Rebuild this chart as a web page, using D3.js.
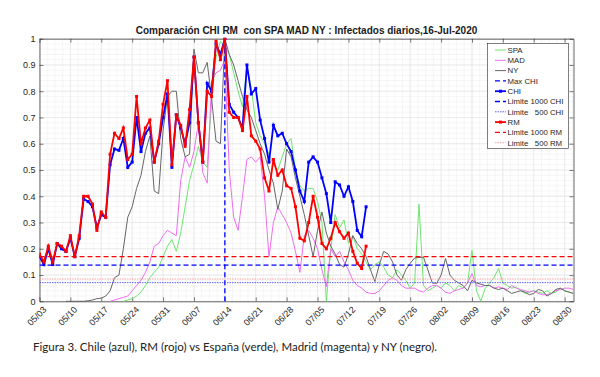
<!DOCTYPE html>
<html><head><meta charset="utf-8">
<script src="https://cdn.jsdelivr.net/npm/d3@7/dist/d3.min.js"></script>
<style>
body{margin:0;background:#fff;}
svg{display:block;font-family:"Liberation Sans",Arial,Helvetica,sans-serif;}
</style>
</head><body>
<svg id="chart" width="600" height="377"></svg>
<script>
// ---------------- data ----------------
const titleText = "Comparación CHI RM  con SPA MAD NY : Infectados diarios,16-Jul-2020";
const captionText = "Figura 3. Chile (azul), RM (rojo) vs España (verde), Madrid (magenta) y NY (negro).";
const domainStart = "2020-05-03";
const domainEnd = "2020-09-01";
const xTickLabels = ["05/03","05/10","05/17","05/24","05/31","06/07","06/14","06/21","06/28","07/05","07/12","07/19","07/26","08/02","08/09","08/16","08/23","08/30"];
const yTickValues = [0,0.1,0.2,0.3,0.4,0.5,0.6,0.7,0.8,0.9,1];

const chiStart = "2020-05-03";
const chiValues = [0.17,0.14,0.20,0.14,0.22,0.20,0.19,0.24,0.17,0.24,
  0.39,0.38,0.36,0.28,0.33,0.32,0.52,0.58,0.575,0.62,
  0.51,0.53,0.70,0.57,0.64,0.66,0.53,0.60,0.70,0.79,
  0.51,0.71,0.66,0.60,0.68,0.93,0.68,0.53,0.83,0.80,
  0.98,0.94,1.00,0.75,0.72,0.70,0.66,0.90,0.79,0.81,
  0.69,0.62,0.53,0.67,0.63,0.64,0.60,0.57,0.50,0.42,
  0.38,0.53,0.55,0.53,0.47,0.41,0.30,0.455,0.443,0.40,
  0.436,0.38,0.27,0.246,0.36];

const rmStart = "2020-05-03";
const rmValues = [0.18,0.15,0.21,0.15,0.22,0.21,0.19,0.25,0.17,0.25,
  0.40,0.40,0.37,0.27,0.34,0.32,0.56,0.64,0.62,0.66,
  0.54,0.56,0.78,0.60,0.66,0.69,0.53,0.61,0.75,0.84,
  0.52,0.71,0.67,0.59,0.73,0.93,0.68,0.53,0.80,0.78,
  0.99,0.92,1.00,0.72,0.70,0.70,0.65,0.78,0.63,0.61,
  0.58,0.47,0.42,0.54,0.48,0.50,0.44,0.43,0.36,0.24,
  0.23,0.30,0.40,0.32,0.22,0.20,0.24,0.30,0.265,0.24,
  0.26,0.19,0.145,0.125,0.21];

const spaStart = "2020-05-22";
const spaValues = [0.0,0.005,0.01,0.02,0.035,0.06,0.09,0.11,0.13,0.17,
  0.21,0.235,0.19,0.26,0.36,0.46,0.52,0.59,0.53,0.51,
  0.76,0.93,0.99,0.97,0.94,0.87,0.80,0.74,0.89,0.81,
  0.68,0.63,0.60,0.56,0.52,0.50,0.55,0.60,0.62,0.50,
  0.44,0.42,0.43,0.43,0.38,0.30,0.0,0.20,0.33,0.28,
  0.31,0.22,0.25,0.20,0.18,0.15,0.12,0.14,0.15,0.13,
  0.10,0.09,0.12,0.10,0.08,0.05,0.07,0.37,0.06,0.04,
  0.05,0.06,0.05,0.07,0.06,0.04,0.06,0.05,0.07,0.195,
  0.04,0.0,0.05,0.07,0.09,0.126,0.07,0.06,0.05,0.055,
  0.04,0.03,0.035,0.04,0.035,0.03,0.04,0.03,0.035,0.05,
  0.04,0.035,0.03];

const madStart = "2020-05-19";
const madValues = [0.0,0.005,0.01,0.015,0.02,0.04,0.06,0.08,0.11,0.15,
  0.21,0.22,0.25,0.27,0.26,0.25,0.46,0.55,0.51,0.57,
  0.68,0.49,0.45,0.84,0.87,0.88,0.92,0.50,0.32,0.27,
  0.40,0.54,0.55,0.53,0.55,0.40,0.17,0.30,0.36,0.33,
  0.30,0.26,0.19,0.11,0.25,0.27,0.24,0.20,0.12,0.056,
  0.20,0.17,0.19,0.15,0.12,0.08,0.06,0.05,0.035,0.03,
  0.03,0.04,0.06,0.08,0.09,0.08,0.06,0.05,0.05,0.05,
  0.04,0.035,0.05,0.06,0.06,0.05,0.035,0.03,0.04,0.045,
  0.05,0.07,0.106,0.06,0.055,0.06,0.06,0.05,0.055,0.05,
  0.045,0.06,0.05,0.045,0.04,0.035,0.04,0.03,0.025,0.025,
  0.03,0.04,0.045,0.05,0.05,0.045];

const nyStart = "2020-05-09";
const nyValues = [0.0,0.0,0.0,0.0,0.0,0.002,0.005,0.01,0.012,0.02,
  0.04,0.09,0.10,0.20,0.32,0.36,0.43,0.48,0.57,0.63,
  0.42,0.41,0.65,0.78,0.80,0.80,0.62,0.55,0.56,0.96,
  0.87,0.87,0.91,0.77,0.61,0.60,1.00,0.94,0.90,0.84,
  0.78,0.73,0.70,0.65,0.60,0.56,0.50,0.45,0.35,0.42,
  0.58,0.55,0.47,0.40,0.33,0.25,0.17,0.27,0.34,0.26,
  0.21,0.18,0.14,0.13,0.18,0.25,0.22,0.20,0.17,0.12,
  0.075,0.14,0.19,0.18,0.15,0.10,0.08,0.12,0.145,0.165,
  0.167,0.168,0.12,0.07,0.068,0.10,0.163,0.10,0.08,0.07,
  0.06,0.04,0.08,0.07,0.065,0.06,0.06,0.05,0.045,0.05,
  0.04,0.03,0.035,0.04,0.035,0.025,0.03,0.045,0.04,0.02,
  0.03,0.045,0.05,0.04,0.035,0.03];

const maxChiDate = "2020-06-14";
const limitNames = ["Limite 1000 CHI","Limite   500 CHI","Limite 1000 RM","Limite   500 RM"];
const limitValues = [0.138,0.071,0.17,0.085];

// ---------------- drawing ----------------
const svg = d3.select("#chart");
const W = 600, H = 377;
const L = 39.5, R = 573.5, T = 38.7, B = 301.3;
const parse = d3.timeParse("%Y-%m-%d");
const x = d3.scaleTime().domain([parse(domainStart), parse(domainEnd)]).range([L, R]);
const y = d3.scaleLinear().domain([0, 1]).range([B, T]);
const tickDates = xTickLabels.map(s => d3.timeParse("%m/%d/%Y")(s + "/2020"));

svg.append("rect").attr("width", W).attr("height", H).attr("fill", "#fff");
svg.append("defs").append("clipPath").attr("id", "clip")
  .append("rect").attr("x", L).attr("y", T - 1).attr("width", R - L).attr("height", B - T + 2);

// grid
const grid = svg.append("g");
const minorY = d3.range(0, 1.0001, 0.02);
grid.selectAll(".my").data(minorY).join("line")
  .attr("x1", L).attr("x2", R).attr("y1", d => y(d)).attr("y2", d => y(d))
  .attr("stroke", "#f0f0f0").attr("stroke-width", 0.6);
const minorX = d3.range(0, 121, 1.75);
const d0 = parse(domainStart);
grid.selectAll(".mx").data(minorX).join("line")
  .attr("x1", d => x(d3.timeHour.offset(d0, d * 24))).attr("x2", d => x(d3.timeHour.offset(d0, d * 24)))
  .attr("y1", T).attr("y2", B)
  .attr("stroke", "#f0f0f0").attr("stroke-width", 0.6);
grid.selectAll(".gy").data(yTickValues).join("line")
  .attr("x1", L).attr("x2", R).attr("y1", d => y(d)).attr("y2", d => y(d))
  .attr("stroke", "#e3e3e3").attr("stroke-width", 0.6);
grid.selectAll(".gx").data(tickDates).join("line")
  .attr("x1", d => x(d)).attr("x2", d => x(d)).attr("y1", T).attr("y2", B)
  .attr("stroke", "#e3e3e3").attr("stroke-width", 0.6);

// axes
const axisColor = "#262626";
const fmtTick = d3.timeFormat("%m/%d");
const xAxis = svg.append("g").attr("transform", `translate(0,${B})`)
  .call(d3.axisBottom(x).tickValues(tickDates).tickFormat(fmtTick).tickSizeInner(-4).tickSizeOuter(0));
xAxis.selectAll(".tick text")
  .attr("x", 0).attr("y", 0).attr("dy", 0).attr("text-anchor", "end")
  .attr("transform", "translate(7,9) rotate(-45)");
svg.append("g").attr("transform", `translate(${L},0)`)
  .call(d3.axisLeft(y).tickValues(yTickValues).tickFormat(d3.format("~g")).tickSizeInner(-4).tickSizeOuter(0).tickPadding(4));
svg.append("g").attr("transform", `translate(0,${T})`)
  .call(d3.axisTop(x).tickValues(tickDates).tickFormat("").tickSizeInner(-4).tickSizeOuter(0));
svg.append("g").attr("transform", `translate(${R},0)`)
  .call(d3.axisRight(y).tickValues(yTickValues).tickFormat("").tickSizeInner(-4).tickSizeOuter(0));
svg.selectAll(".domain").attr("stroke", axisColor).attr("stroke-width", 0.7);
svg.selectAll(".tick line").attr("stroke", axisColor).attr("stroke-width", 0.6);
svg.selectAll(".tick text").attr("fill", axisColor).attr("font-size", 9);

// series
const plot = svg.append("g").attr("clip-path", "url(#clip)");
function seriesData(start, vals){
  const s = parse(start);
  return vals.map((v, i) => ({date: d3.timeDay.offset(s, i), v}));
}
const line = d3.line().x(d => x(d.date)).y(d => y(d.v));

const cSPA = "#6ee66e", cMAD = "#ee6eee", cNY = "#666666", cBlue = "#0000ff", cRed = "#ff0000";
const c500RM = "#ff9a9a", c500CHI = "#5050ff";

plot.append("path").datum(seriesData(spaStart, spaValues)).attr("d", line)
  .attr("fill", "none").attr("stroke", cSPA).attr("stroke-width", 1);
plot.append("path").datum(seriesData(madStart, madValues)).attr("d", line)
  .attr("fill", "none").attr("stroke", cMAD).attr("stroke-width", 1);
plot.append("path").datum(seriesData(nyStart, nyValues)).attr("d", line)
  .attr("fill", "none").attr("stroke", cNY).attr("stroke-width", 1);

// Max CHI vertical
const mx = x(parse(maxChiDate));
plot.append("line").attr("x1", mx).attr("x2", mx).attr("y1", y(0)).attr("y2", y(1))
  .attr("stroke", cBlue).attr("stroke-width", 1.3).attr("stroke-dasharray", "5,3");

const chi = seriesData(chiStart, chiValues);
plot.append("path").datum(chi).attr("d", line)
  .attr("fill", "none").attr("stroke", cBlue).attr("stroke-width", 1.8);
plot.selectAll(".chiM").data(chi).join("rect")
  .attr("x", d => x(d.date) - 1.5).attr("y", d => y(d.v) - 1.5).attr("width", 3).attr("height", 3)
  .attr("fill", cBlue);

const limStyles = [
  {c: cBlue, dash: "5,3", w: 1.3},
  {c: c500CHI, dash: "1.5,1", w: 0.9},
  {c: cRed, dash: "5,3", w: 1.3},
  {c: c500RM, dash: "1.5,1", w: 0.9}
];
function drawLimit(i){
  plot.append("line").attr("x1", L).attr("x2", R).attr("y1", y(limitValues[i])).attr("y2", y(limitValues[i]))
    .attr("stroke", limStyles[i].c).attr("stroke-width", limStyles[i].w).attr("stroke-dasharray", limStyles[i].dash);
}
drawLimit(0); drawLimit(1);

const rm = seriesData(rmStart, rmValues);
plot.append("path").datum(rm).attr("d", line)
  .attr("fill", "none").attr("stroke", cRed).attr("stroke-width", 1.8);
plot.selectAll(".rmM").data(rm).join("rect")
  .attr("x", d => x(d.date) - 1.5).attr("y", d => y(d.v) - 1.5).attr("width", 3).attr("height", 3)
  .attr("fill", cRed);
drawLimit(2); drawLimit(3);

// title
svg.append("text").attr("x", 306.5).attr("y", 33.5).attr("text-anchor", "middle")
  .attr("font-weight", "bold").attr("font-size", 10).attr("fill", "#1a1a1a")
  .style("white-space", "pre").text(titleText);

// legend
const legendNames = ["SPA","MAD","NY","Max CHI","CHI"].concat(limitNames.slice(0,2), ["RM"], limitNames.slice(2));
const legendStyles = [
  {c: cSPA, w: 1}, {c: cMAD, w: 1}, {c: cNY, w: 1},
  {c: cBlue, w: 1.3, dash: "5,3"}, {c: cBlue, w: 1.8, marker: true},
  limStyles[0], limStyles[1],
  {c: cRed, w: 1.8, marker: true}, limStyles[2], limStyles[3]
];
const lg = svg.append("g");
lg.append("rect").attr("x", 487.5).attr("y", 43.5).attr("width", 81).attr("height", 105)
  .attr("fill", "#fff").attr("stroke", "#2a2a2a").attr("stroke-width", 0.6);
legendNames.forEach((name, i) => {
  const yy = 50 + i * 10.3;
  const st = legendStyles[i];
  lg.append("line").attr("x1", 495).attr("x2", 506).attr("y1", yy).attr("y2", yy)
    .attr("stroke", st.c).attr("stroke-width", st.w).attr("stroke-dasharray", st.dash || null);
  if (st.marker) lg.append("rect").attr("x", 499).attr("y", yy - 1.5).attr("width", 3).attr("height", 3).attr("fill", st.c);
  lg.append("text").attr("x", 507.5).attr("y", yy + 2.8).attr("font-size", 7.8).attr("fill", "#262626")
    .style("white-space", "pre").text(name);
});

// caption
svg.append("text").attr("x", 33).attr("y", 350.5).attr("font-family", "Lato, 'Open Sans', sans-serif")
  .attr("font-size", 11.5).attr("fill", "#222").attr("textLength", 404).attr("lengthAdjust", "spacingAndGlyphs")
  .text(captionText);
</script>
</body></html>
